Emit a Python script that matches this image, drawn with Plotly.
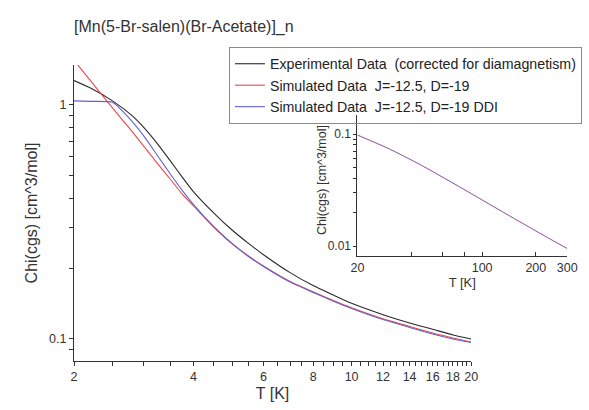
import plotly.graph_objects as go
import math

# ---- data ----
T_main = [2, 2.2, 2.5, 2.8, 3.0, 3.25, 3.5, 3.75, 4, 4.5, 5, 5.5, 6, 7, 8, 9, 10, 12, 14, 16, 18, 20]
chi_exp = [1.27, 1.18, 1.04, 0.90, 0.80, 0.68, 0.575, 0.49, 0.425, 0.345, 0.292, 0.256, 0.229,
           0.192, 0.169, 0.154, 0.142, 0.127, 0.117, 0.110, 0.104, 0.100]
chi_sim = [1.55, 1.27, 0.97, 0.77, 0.665, 0.56, 0.48, 0.415, 0.37, 0.30, 0.255, 0.226, 0.205,
           0.176, 0.159, 0.146, 0.136, 0.122, 0.113, 0.106, 0.101, 0.097]
chi_ddi = [1.04, 1.035, 1.025, 0.85, 0.735, 0.605, 0.505, 0.43, 0.375, 0.302, 0.256, 0.225, 0.204,
           0.175, 0.158, 0.145, 0.135, 0.121, 0.112, 0.105, 0.100, 0.0965]

T_inset = [20, 30, 45, 68, 100, 150, 200, 250, 300]
chi_inset_sim = [0.098, 0.074, 0.0533, 0.0368, 0.0258, 0.01773, 0.01365, 0.01116, 0.0095]
chi_inset_ddi = [0.098, 0.074, 0.0533, 0.0368, 0.0258, 0.01773, 0.01365, 0.01116, 0.0095]

names = ["Experimental Data\u00a0\u00a0(corrected for diamagnetism)",
         "Simulated Data\u00a0\u00a0J=-12.5, D=-19",
         "Simulated Data\u00a0\u00a0J=-12.5, D=-19 DDI"]
colors = ["#2a2a2a", "#e8494a", "#6262d0"]

x_major = [2, 4, 6, 8, 10, 12, 14, 16, 18, 20]
x_minor = [2.5, 3, 3.5, 4.5, 5, 5.5, 6.5, 7, 7.5, 8.5, 9, 9.5, 10.5, 11, 11.5, 12.5, 13, 13.5,
           14.5, 15, 15.5, 16.5, 17, 17.5, 18.5, 19, 19.5]
y_major = [0.1, 1]
y_minor = [0.09, 0.2, 0.3, 0.4, 0.5, 0.6, 0.7, 0.8, 0.9]
xi_major = [20, 100, 200, 300]
xi_minor = [40, 60, 80]
yi_major = [0.01, 0.1]
yi_minor = [0.02, 0.03, 0.04, 0.05, 0.06, 0.07, 0.08, 0.09]

FONT = "Liberation Sans, Arial, sans-serif"
AX = "#333333"


def ticks(major, minor, labels=None):
    vals = list(major) + list(minor)
    if labels is None:
        labels = [str(v) for v in major]
    return vals, list(labels) + [""] * len(minor)


fig = go.Figure()
for y, n, c in zip([chi_exp, chi_sim, chi_ddi], names, colors):
    fig.add_trace(go.Scatter(x=T_main, y=y, mode="lines", name=n,
                             line=dict(color=c, width=1.1, shape="spline", smoothing=0.5),
                             xaxis="x", yaxis="y"))
for y, c in zip([chi_inset_sim, chi_inset_ddi], colors[1:]):
    fig.add_trace(go.Scatter(x=T_inset, y=y, mode="lines", showlegend=False,
                             line=dict(color=c, width=1, shape="spline", smoothing=0.6),
                             opacity=0.7, xaxis="x2", yaxis="y2"))

# layout geometry: paper spans x 74..589, y 40..361
L, R, Tm, B = 74, 0, 40, 49
PW = 589 - L - R
PH = 410 - Tm - B

def px_x(p):
    return (p - L) / PW

def px_y(p):
    return (410 - B - p) / PH

main_xdom = [0, px_x(479)]
main_ydom = [0, px_y(65)]
ins_xdom = [px_x(363), px_x(577)]
ins_ydom = [px_y(256), px_y(115)]
xr = [math.log10(2), math.log10(20)]
yr = [math.log10(0.0805), math.log10(1.48)]
xir = [math.log10(20), math.log10(300)]
yir = [-2.089, -0.83]

common = dict(type="log", showgrid=False, zeroline=False, tickcolor=AX, linecolor=AX,
              linewidth=1, showline=True, tickmode="array")

xv, xt = ticks(x_major, x_minor)
yv, yt = ticks(y_major, y_minor, ["0.1", "1"])
xiv, xit = ticks(xi_major, xi_minor)
yiv, yit = ticks(yi_major, yi_minor, ["0.01", "0.1"])

fig.update_layout(
    width=589, height=410,
    margin=dict(l=L, r=R, t=Tm, b=B),
    paper_bgcolor="white", plot_bgcolor="rgba(0,0,0,0)",
    font=dict(family=FONT, color=AX, size=12),
    showlegend=True,
    legend=dict(x=px_x(232), y=px_y(47), xanchor="left", yanchor="top",
                bordercolor="#8a8a8a", borderwidth=1, bgcolor="rgba(255,255,255,0)",
                font=dict(size=14.2, color="#222"), itemwidth=30,
                tracegroupgap=0),
    xaxis=dict(common, domain=main_xdom, range=xr, tickvals=xv, ticktext=xt,
               ticks="outside", ticklen=4, tickfont=dict(size=12.5),
               title=dict(text="T [K]", font=dict(size=16), standoff=4),
               anchor="y"),
    yaxis=dict(common, domain=main_ydom, range=yr, tickvals=yv, ticktext=yt,
               ticks="outside", ticklen=4, tickfont=dict(size=12.5),
               title=dict(text="Chi(cgs) [cm^3/mol]", font=dict(size=16), standoff=7),
               anchor="x"),
    xaxis2=dict(common, domain=ins_xdom, range=xir, tickvals=xiv, ticktext=xit,
                ticks="inside", ticklen=4, tickfont=dict(size=12.5),
                title=dict(text="T [K]", font=dict(size=13), standoff=1),
                anchor="y2"),
    yaxis2=dict(common, domain=ins_ydom, range=yir, tickvals=yiv, ticktext=yit,
                ticks="outside", ticklen=3, tickfont=dict(size=12),
                anchor="x2"),
    annotations=[
        dict(text="[Mn(5-Br-salen)(Br-Acetate)]_n", xref="paper", yref="paper",
             x=px_x(72), y=px_y(27), xanchor="left", yanchor="middle",
             showarrow=False, font=dict(size=16, color="#333")),
        dict(text="Chi(cgs) [cm^3/mol]", xref="paper", yref="paper",
             x=px_x(327), y=px_y(180), xanchor="center", yanchor="middle",
             textangle=-90, showarrow=False, font=dict(size=12.5, color="#333")),
    ],
)

fig.write_html("out.html")
